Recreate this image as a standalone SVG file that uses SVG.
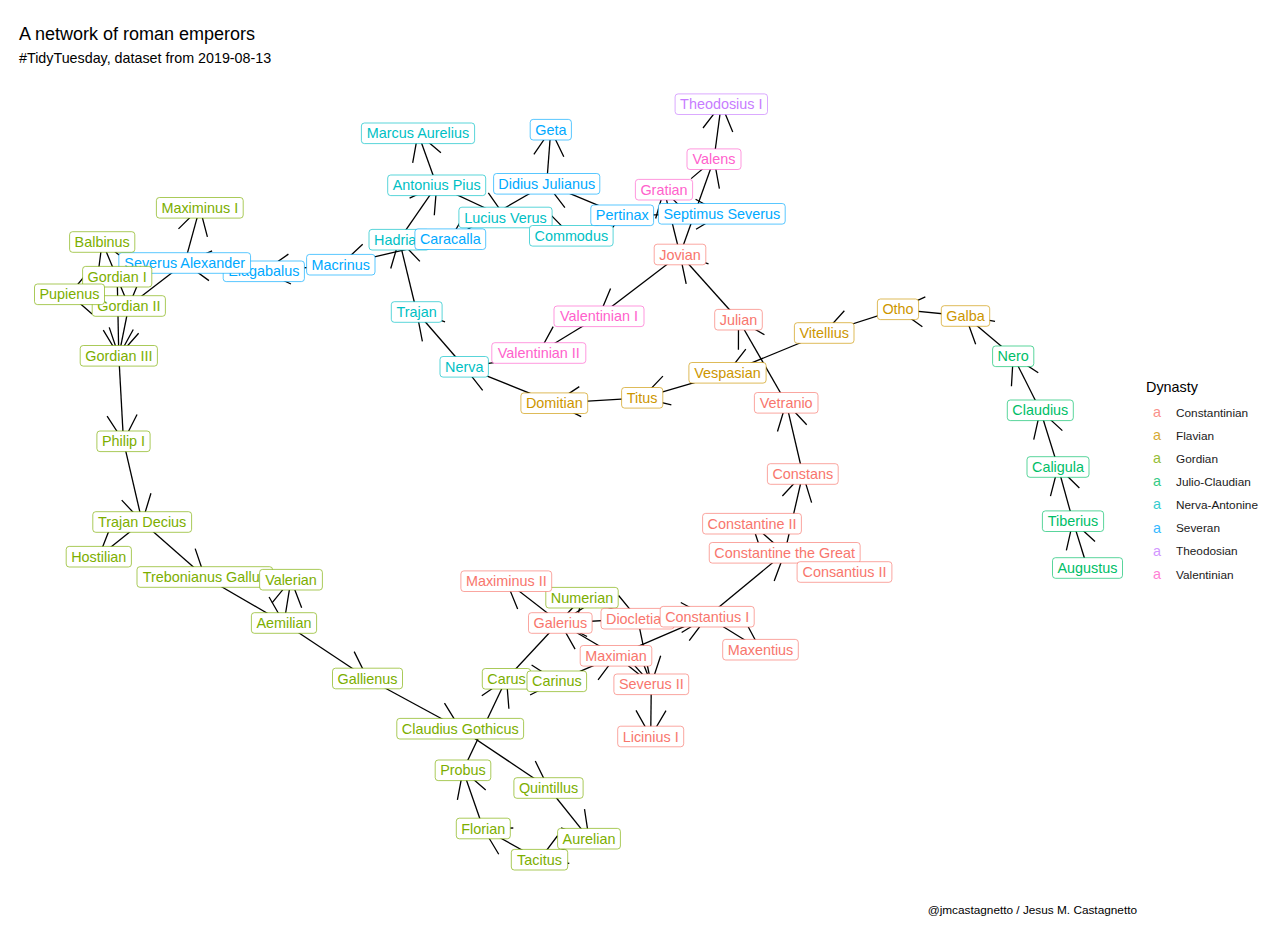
<svg xmlns="http://www.w3.org/2000/svg" width="1280" height="936" viewBox="0 0 1280 936">
<defs>
<marker id="ah" viewBox="-30 -16 32 32" refX="0" refY="0" markerWidth="32" markerHeight="32" markerUnits="userSpaceOnUse" orient="auto">
<path d="M-25.98,-15L0,0L-25.98,15" fill="none" stroke="#000" stroke-width="1.3"/>
</marker>
<style>
text{font-family:"Liberation Sans",Arial,sans-serif}
#edges line{stroke:#000;stroke-width:1.3;fill:none;marker-end:url(#ah)}
.node rect{fill:#fff;stroke-width:1;stroke-opacity:.65}
.node text{font-size:14.4px;text-anchor:middle}
.co rect{stroke:#F8766D}.co text{fill:#F8766D}
.fl rect{stroke:#CD9600}.fl text{fill:#CD9600}
.go rect{stroke:#7CAE00}.go text{fill:#7CAE00}
.jc rect{stroke:#00BE67}.jc text{fill:#00BE67}
.na rect{stroke:#00BFC4}.na text{fill:#00BFC4}
.sv rect{stroke:#00A9FF}.sv text{fill:#00A9FF}
.th rect{stroke:#C77CFF}.th text{fill:#C77CFF}
.va rect{stroke:#FF61CC}.va text{fill:#FF61CC}
.key{font-size:14.4px;text-anchor:middle;opacity:.8}
.leg{font-size:11.8px;fill:#1a1a1a}
</style>
</defs>
<rect width="1280" height="936" fill="#fff"/>
<text x="19" y="40" font-size="18" fill="#000">A network of roman emperors</text>
<text x="19" y="63" font-size="14.3" fill="#000">#TidyTuesday, dataset from 2019-08-13</text>
<g id="edges">
<line x1="1087.5" y1="568" x2="1073" y2="521.2"/>
<line x1="1073" y1="521.2" x2="1058" y2="467"/>
<line x1="1058" y1="467" x2="1040.3" y2="410.3"/>
<line x1="1040.3" y1="410.3" x2="1013.2" y2="356.3"/>
<line x1="1013.2" y1="356.3" x2="965.5" y2="316"/>
<line x1="965.5" y1="316" x2="898" y2="309.3"/>
<line x1="898" y1="309.3" x2="824.2" y2="333"/>
<line x1="824.2" y1="333" x2="727.5" y2="372.8"/>
<line x1="727.5" y1="372.8" x2="642.2" y2="397.8"/>
<line x1="642.2" y1="397.8" x2="554.3" y2="403.2"/>
<line x1="554.3" y1="403.2" x2="464.2" y2="366.8"/>
<line x1="464.2" y1="366.8" x2="416.7" y2="312"/>
<line x1="416.7" y1="312" x2="399.2" y2="239.7"/>
<line x1="399.2" y1="239.7" x2="436.7" y2="185.3"/>
<line x1="436.7" y1="185.3" x2="418" y2="133.3"/>
<line x1="436.7" y1="185.3" x2="505.5" y2="217.5"/>
<line x1="505.5" y1="217.5" x2="571.3" y2="235.8"/>
<line x1="571.3" y1="235.8" x2="622.2" y2="215.3"/>
<line x1="622.2" y1="215.3" x2="546.7" y2="183.8"/>
<line x1="622.2" y1="215.3" x2="721.8" y2="213.8"/>
<line x1="546.7" y1="183.8" x2="550.8" y2="129.7"/>
<line x1="546.7" y1="183.8" x2="450.3" y2="239.2"/>
<line x1="450.3" y1="239.2" x2="340.8" y2="264.7"/>
<line x1="340.8" y1="264.7" x2="263.8" y2="271.3"/>
<line x1="263.8" y1="271.3" x2="184.7" y2="263"/>
<line x1="184.7" y1="263" x2="199.8" y2="207.8"/>
<line x1="184.7" y1="263" x2="128.8" y2="306"/>
<line x1="117.2" y1="276.7" x2="69.5" y2="294.3"/>
<line x1="128.8" y1="306" x2="69.5" y2="294.3"/>
<line x1="128.8" y1="306" x2="102.2" y2="242"/>
<line x1="117.2" y1="276.7" x2="118.8" y2="355.8"/>
<line x1="128.8" y1="306" x2="118.8" y2="355.8"/>
<line x1="118.8" y1="355.8" x2="123.5" y2="441.3"/>
<line x1="123.5" y1="441.3" x2="142.2" y2="522"/>
<line x1="142.2" y1="522" x2="98.8" y2="556.7"/>
<line x1="142.2" y1="522" x2="204.8" y2="577"/>
<line x1="204.8" y1="577" x2="284" y2="623"/>
<line x1="284" y1="623" x2="291" y2="579.7"/>
<line x1="284" y1="623" x2="367.5" y2="678.5"/>
<line x1="367.5" y1="678.5" x2="460.2" y2="728.7"/>
<line x1="460.2" y1="728.7" x2="548.5" y2="788"/>
<line x1="548.5" y1="788" x2="589" y2="838.7"/>
<line x1="589" y1="838.7" x2="539.5" y2="859.7"/>
<line x1="539.5" y1="859.7" x2="483.3" y2="828.5"/>
<line x1="483.3" y1="828.5" x2="463" y2="770.3"/>
<line x1="463" y1="770.3" x2="506.5" y2="678.8"/>
<line x1="506.5" y1="678.8" x2="556.8" y2="681.3"/>
<line x1="506.5" y1="678.8" x2="582" y2="597.7"/>
<line x1="582" y1="597.7" x2="637.6" y2="618.7"/>
<line x1="556.8" y1="681.3" x2="616" y2="655.8"/>
<line x1="637.6" y1="618.7" x2="560.3" y2="623"/>
<line x1="637.6" y1="618.7" x2="707.2" y2="616.7"/>
<line x1="637.6" y1="618.7" x2="651.3" y2="684.3"/>
<line x1="616" y1="655.8" x2="560.3" y2="623"/>
<line x1="616" y1="655.8" x2="707.2" y2="616.7"/>
<line x1="616" y1="655.8" x2="651.3" y2="684.3"/>
<line x1="560.3" y1="623" x2="506.3" y2="581.2"/>
<line x1="707.2" y1="616.7" x2="760.5" y2="649.7"/>
<line x1="707.2" y1="616.7" x2="784.7" y2="552.8"/>
<line x1="651.3" y1="684.3" x2="650.7" y2="736.5"/>
<line x1="784.7" y1="552.8" x2="752" y2="523.7"/>
<line x1="784.7" y1="552.8" x2="802.8" y2="474"/>
<line x1="784.7" y1="552.8" x2="844.5" y2="572"/>
<line x1="802.8" y1="474" x2="786.2" y2="402.8"/>
<line x1="786.2" y1="402.8" x2="738.5" y2="319.7"/>
<line x1="738.5" y1="319.7" x2="680" y2="254.5"/>
<line x1="680" y1="254.5" x2="599" y2="316.3"/>
<line x1="680" y1="254.5" x2="714" y2="159.2"/>
<line x1="680" y1="254.5" x2="664" y2="189.7"/>
<line x1="599" y1="316.3" x2="538.8" y2="353"/>
<line x1="714" y1="159.2" x2="721.3" y2="104.2"/>
</g>
<g id="nodes">
<g id="augustus" class="node jc"><rect x="1052.5" y="557.7" width="70" height="20.6" rx="3"/><text x="1087.5" y="573">Augustus</text></g>
<g id="tiberius" class="node jc"><rect x="1042.4" y="510.9" width="61.2" height="20.6" rx="3"/><text x="1073" y="526.2">Tiberius</text></g>
<g id="caligula" class="node jc"><rect x="1027" y="456.7" width="62" height="20.6" rx="3"/><text x="1058" y="472">Caligula</text></g>
<g id="claudius" class="node jc"><rect x="1007.3" y="400" width="66" height="20.6" rx="3"/><text x="1040.3" y="415.3">Claudius</text></g>
<g id="nero" class="node jc"><rect x="992.6" y="346" width="41.2" height="20.6" rx="3"/><text x="1013.2" y="361.3">Nero</text></g>
<g id="galba" class="node fl"><rect x="941.3" y="305.7" width="48.4" height="20.6" rx="3"/><text x="965.5" y="321">Galba</text></g>
<g id="otho" class="node fl"><rect x="877.4" y="299" width="41.2" height="20.6" rx="3"/><text x="898" y="314.3">Otho</text></g>
<g id="vitellius" class="node fl"><rect x="794.4" y="322.7" width="59.6" height="20.6" rx="3"/><text x="824.2" y="338">Vitellius</text></g>
<g id="vespasian" class="node fl"><rect x="688.9" y="362.5" width="77.2" height="20.6" rx="3"/><text x="727.5" y="377.8">Vespasian</text></g>
<g id="titus" class="node fl"><rect x="621.6" y="387.5" width="41.2" height="20.6" rx="3"/><text x="642.2" y="402.8">Titus</text></g>
<g id="domitian" class="node fl"><rect x="520.9" y="392.9" width="66.8" height="20.6" rx="3"/><text x="554.3" y="408.2">Domitian</text></g>
<g id="nerva" class="node na"><rect x="440" y="356.5" width="48.4" height="20.6" rx="3"/><text x="464.2" y="371.8">Nerva</text></g>
<g id="trajan" class="node na"><rect x="391.3" y="301.7" width="50.8" height="20.6" rx="3"/><text x="416.7" y="317">Trajan</text></g>
<g id="hadrian" class="node na"><rect x="369" y="229.4" width="60.4" height="20.6" rx="3"/><text x="399.2" y="244.7">Hadrian</text></g>
<g id="antonius-pius" class="node na"><rect x="387.7" y="175" width="98" height="20.6" rx="3"/><text x="436.7" y="190.3">Antonius Pius</text></g>
<g id="marcus-aurelius" class="node na"><rect x="361.4" y="123" width="113.2" height="20.6" rx="3"/><text x="418" y="138.3">Marcus Aurelius</text></g>
<g id="lucius-verus" class="node na"><rect x="458.9" y="207.2" width="93.2" height="20.6" rx="3"/><text x="505.5" y="222.5">Lucius Verus</text></g>
<g id="commodus" class="node na"><rect x="529.5" y="225.5" width="83.6" height="20.6" rx="3"/><text x="571.3" y="240.8">Commodus</text></g>
<g id="pertinax" class="node sv"><rect x="590.8" y="205" width="62.8" height="20.6" rx="3"/><text x="622.2" y="220.3">Pertinax</text></g>
<g id="didius-julianus" class="node sv"><rect x="493.6" y="173.5" width="106.2" height="20.6" rx="3"/><text x="546.7" y="188.8">Didius Julianus</text></g>
<g id="septimus-severus" class="node sv"><rect x="658.4" y="203.5" width="126.8" height="20.6" rx="3"/><text x="721.8" y="218.8">Septimus Severus</text></g>
<g id="caracalla" class="node sv"><rect x="414.9" y="228.9" width="70.8" height="20.6" rx="3"/><text x="450.3" y="244.2">Caracalla</text></g>
<g id="geta" class="node sv"><rect x="530.2" y="119.4" width="41.2" height="20.6" rx="3"/><text x="550.8" y="134.7">Geta</text></g>
<g id="macrinus" class="node sv"><rect x="306.6" y="254.4" width="68.4" height="20.6" rx="3"/><text x="340.8" y="269.7">Macrinus</text></g>
<g id="elagabalus" class="node sv"><rect x="223.2" y="261" width="81.2" height="20.6" rx="3"/><text x="263.8" y="276.3">Elagabalus</text></g>
<g id="severus-alexander" class="node sv"><rect x="118.85" y="252.7" width="131.7" height="20.6" rx="3"/><text x="184.7" y="268">Severus Alexander</text></g>
<g id="maximinus-i" class="node go"><rect x="156.4" y="197.5" width="86.8" height="20.6" rx="3"/><text x="199.8" y="212.8">Maximinus I</text></g>
<g id="gordian-i" class="node go"><rect x="82.6" y="266.4" width="69.2" height="20.6" rx="3"/><text x="117.2" y="281.7">Gordian I</text></g>
<g id="gordian-ii" class="node go"><rect x="92.2" y="295.7" width="73.2" height="20.6" rx="3"/><text x="128.8" y="311">Gordian II</text></g>
<g id="pupienus" class="node go"><rect x="34.5" y="284" width="70" height="20.6" rx="3"/><text x="69.5" y="299.3">Pupienus</text></g>
<g id="balbinus" class="node go"><rect x="69.6" y="231.7" width="65.2" height="20.6" rx="3"/><text x="102.2" y="247">Balbinus</text></g>
<g id="gordian-iii" class="node go"><rect x="80.2" y="345.5" width="77.2" height="20.6" rx="3"/><text x="118.8" y="360.8">Gordian III</text></g>
<g id="philip-i" class="node go"><rect x="96.9" y="431" width="53.2" height="20.6" rx="3"/><text x="123.5" y="446.3">Philip I</text></g>
<g id="trajan-decius" class="node go"><rect x="92.8" y="511.7" width="98.8" height="20.6" rx="3"/><text x="142.2" y="527">Trajan Decius</text></g>
<g id="hostilian" class="node go"><rect x="66.2" y="546.4" width="65.2" height="20.6" rx="3"/><text x="98.8" y="561.7">Hostilian</text></g>
<g id="trebonianus-gallus" class="node go"><rect x="137" y="566.7" width="135.6" height="20.6" rx="3"/><text x="204.8" y="582">Trebonianus Gallus</text></g>
<g id="aemilian" class="node go"><rect x="251.4" y="612.7" width="65.2" height="20.6" rx="3"/><text x="284" y="628">Aemilian</text></g>
<g id="valerian" class="node go"><rect x="259.6" y="569.4" width="62.8" height="20.6" rx="3"/><text x="291" y="584.7">Valerian</text></g>
<g id="gallienus" class="node go"><rect x="332.5" y="668.2" width="70" height="20.6" rx="3"/><text x="367.5" y="683.5">Gallienus</text></g>
<g id="claudius-gothicus" class="node go"><rect x="396.8" y="718.4" width="126.8" height="20.6" rx="3"/><text x="460.2" y="733.7">Claudius Gothicus</text></g>
<g id="quintillus" class="node go"><rect x="513.9" y="777.7" width="69.2" height="20.6" rx="3"/><text x="548.5" y="793">Quintillus</text></g>
<g id="aurelian" class="node go"><rect x="557.6" y="828.4" width="62.8" height="20.6" rx="3"/><text x="589" y="843.7">Aurelian</text></g>
<g id="tacitus" class="node go"><rect x="511.3" y="849.4" width="56.4" height="20.6" rx="3"/><text x="539.5" y="864.7">Tacitus</text></g>
<g id="florian" class="node go"><rect x="456.3" y="818.2" width="54" height="20.6" rx="3"/><text x="483.3" y="833.5">Florian</text></g>
<g id="probus" class="node go"><rect x="435.2" y="760" width="55.6" height="20.6" rx="3"/><text x="463" y="775.3">Probus</text></g>
<g id="carus" class="node go"><rect x="482.3" y="668.5" width="48.4" height="20.6" rx="3"/><text x="506.5" y="683.8">Carus</text></g>
<g id="carinus" class="node go"><rect x="527" y="671" width="59.6" height="20.6" rx="3"/><text x="556.8" y="686.3">Carinus</text></g>
<g id="numerian" class="node go"><rect x="545.8" y="587.4" width="72.4" height="20.6" rx="3"/><text x="582" y="602.7">Numerian</text></g>
<g id="diocletian" class="node co"><rect x="601" y="608.4" width="73.2" height="20.6" rx="3"/><text x="637.6" y="623.7">Diocletian</text></g>
<g id="maximian" class="node co"><rect x="580.2" y="645.5" width="71.6" height="20.6" rx="3"/><text x="616" y="660.8">Maximian</text></g>
<g id="galerius" class="node co"><rect x="528.5" y="612.7" width="63.6" height="20.6" rx="3"/><text x="560.3" y="628">Galerius</text></g>
<g id="constantius-i" class="node co"><rect x="660.2" y="606.4" width="94" height="20.6" rx="3"/><text x="707.2" y="621.7">Constantius I</text></g>
<g id="severus-ii" class="node co"><rect x="613.9" y="674" width="74.8" height="20.6" rx="3"/><text x="651.3" y="689.3">Severus II</text></g>
<g id="maxentius" class="node co"><rect x="722.7" y="639.4" width="75.6" height="20.6" rx="3"/><text x="760.5" y="654.7">Maxentius</text></g>
<g id="licinius-i" class="node co"><rect x="617.7" y="726.2" width="66" height="20.6" rx="3"/><text x="650.7" y="741.5">Licinius I</text></g>
<g id="maximinus-ii" class="node co"><rect x="460.9" y="570.9" width="90.8" height="20.6" rx="3"/><text x="506.3" y="586.2">Maximinus II</text></g>
<g id="constantine-the-great" class="node co"><rect x="709.25" y="542.5" width="150.9" height="20.6" rx="3"/><text x="784.7" y="557.8">Constantine the Great</text></g>
<g id="constantine-ii" class="node co"><rect x="702.6" y="513.4" width="98.8" height="20.6" rx="3"/><text x="752" y="528.7">Constantine II</text></g>
<g id="constans" class="node co"><rect x="767.4" y="463.7" width="70.8" height="20.6" rx="3"/><text x="802.8" y="479">Constans</text></g>
<g id="consantius-ii" class="node co"><rect x="797.1" y="561.7" width="94.8" height="20.6" rx="3"/><text x="844.5" y="577">Consantius II</text></g>
<g id="vetranio" class="node co"><rect x="754.4" y="392.5" width="63.6" height="20.6" rx="3"/><text x="786.2" y="407.8">Vetranio</text></g>
<g id="julian" class="node co"><rect x="714.7" y="309.4" width="47.6" height="20.6" rx="3"/><text x="738.5" y="324.7">Julian</text></g>
<g id="jovian" class="node co"><rect x="654.2" y="244.2" width="51.6" height="20.6" rx="3"/><text x="680" y="259.5">Jovian</text></g>
<g id="valentinian-i" class="node va"><rect x="554" y="306" width="90" height="20.6" rx="3"/><text x="599" y="321.3">Valentinian I</text></g>
<g id="valens" class="node va"><rect x="687" y="148.9" width="54" height="20.6" rx="3"/><text x="714" y="164.2">Valens</text></g>
<g id="gratian" class="node va"><rect x="635.4" y="179.4" width="57.2" height="20.6" rx="3"/><text x="664" y="194.7">Gratian</text></g>
<g id="valentinian-ii" class="node va"><rect x="491.8" y="342.7" width="94" height="20.6" rx="3"/><text x="538.8" y="358">Valentinian II</text></g>
<g id="theodosius-i" class="node th"><rect x="675.1" y="93.9" width="92.4" height="20.6" rx="3"/><text x="721.3" y="109.2">Theodosius I</text></g>
</g>
<g id="legend">
<text x="1146" y="392" font-size="14.4" fill="#000">Dynasty</text>
<text class="key" x="1157" y="417" fill="#F8766D">a</text><text class="leg" x="1176" y="416.8">Constantinian</text>
<text class="key" x="1157" y="440.1" fill="#CD9600">a</text><text class="leg" x="1176" y="439.9">Flavian</text>
<text class="key" x="1157" y="463.2" fill="#7CAE00">a</text><text class="leg" x="1176" y="463">Gordian</text>
<text class="key" x="1157" y="486.3" fill="#00BE67">a</text><text class="leg" x="1176" y="486.1">Julio-Claudian</text>
<text class="key" x="1157" y="509.4" fill="#00BFC4">a</text><text class="leg" x="1176" y="509.2">Nerva-Antonine</text>
<text class="key" x="1157" y="532.5" fill="#00A9FF">a</text><text class="leg" x="1176" y="532.3">Severan</text>
<text class="key" x="1157" y="555.6" fill="#C77CFF">a</text><text class="leg" x="1176" y="555.4">Theodosian</text>
<text class="key" x="1157" y="578.7" fill="#FF61CC">a</text><text class="leg" x="1176" y="578.5">Valentinian</text>
</g>
<text x="1137" y="914" font-size="11.8" text-anchor="end" fill="#000">@jmcastagnetto / Jesus M. Castagnetto</text>
</svg>
